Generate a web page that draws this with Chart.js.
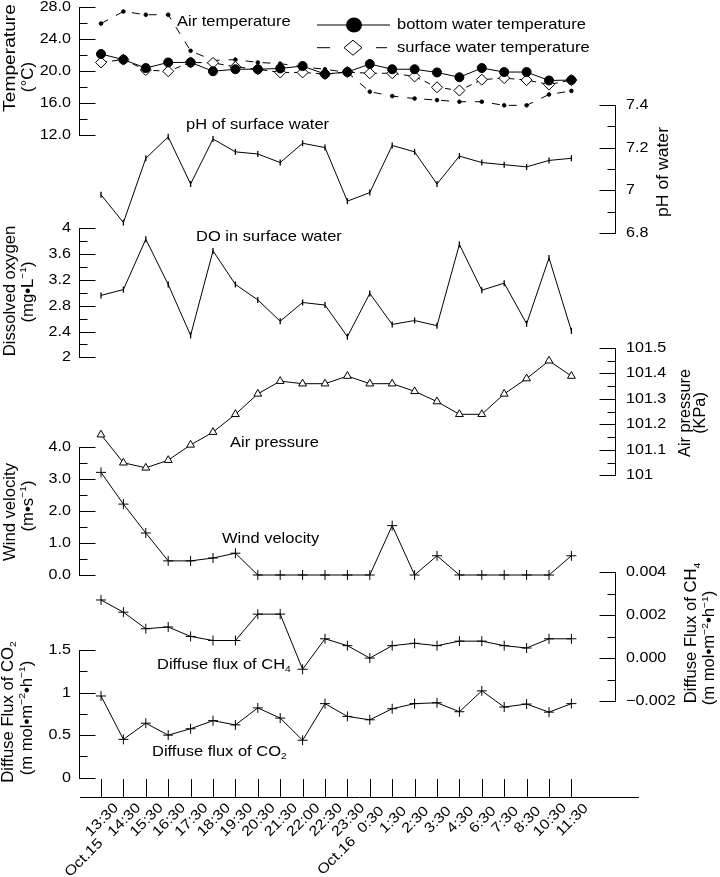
<!DOCTYPE html>
<html>
<head>
<meta charset="utf-8">
<title>Lake water parameters and diffuse fluxes, Oct.15-16</title>
<script src="https://cdn.jsdelivr.net/npm/chart.js@4.4.1/dist/chart.umd.min.js"></script>
<style>
html,body{margin:0;padding:0;background:#fff;}
canvas{display:block;}
</style>
</head>
<body>
<canvas id="c" width="720" height="877" style="width:720px;height:877px"></canvas>
<script>
// ================= DATA =================
const timeLabels = ["13:30","14:30","15:30","16:30","17:30","18:30","19:30","20:30","21:30","22:00","22:30","23:30",
                    "0:30","1:30","2:30","3:30","4:30","6:30","7:30","8:30","10:30","11:30"];
const dateLabels = ["Oct.15","","","","","","","","","","","","Oct.16","","","","","","","","",""];

const bottomWaterTemp  = [22.1,21.4,20.35,21.05,21.05,19.95,20.2,20.2,20.3,20.6,19.6,19.85,20.85,20.2,20.2,19.8,19.2,20.35,19.85,19.85,18.8,18.85];
const surfaceWaterTemp = [21.05,21.4,20.1,19.95,21.05,21.0,20.5,20.2,19.8,19.8,19.6,19.85,19.7,19.7,19.3,17.95,17.55,18.9,19.1,18.85,18.3,18.85];
const airTemp          = [25.9,27.4,27.0,27.0,22.5,21.3,21.4,21.05,20.9,20.5,20.2,19.8,17.4,16.85,16.55,16.35,16.15,16.15,15.7,15.7,17.05,17.5];
const phSurface        = [6.98,6.85,7.15,7.25,7.03,7.24,7.18,7.17,7.13,7.22,7.2,6.95,6.99,7.21,7.18,7.03,7.16,7.13,7.12,7.11,7.14,7.15];
const doSurface        = [2.96,3.05,3.83,3.13,2.34,3.65,3.13,2.89,2.56,2.85,2.81,2.32,2.99,2.51,2.57,2.49,3.75,3.04,3.15,2.52,3.54,2.41];
const airPressure      = [101.16,101.05,101.03,101.06,101.12,101.17,101.24,101.32,101.37,101.36,101.36,101.39,101.36,101.36,101.33,101.29,101.24,101.24,101.32,101.38,101.45,101.39];
const windVelocity     = [3.2,2.21,1.31,0.44,0.44,0.53,0.68,0,0,0,0,0,0,1.54,0,0.6,0,0,0,0,0,0.6];
const ch4Flux          = [0.00271,0.00214,0.00137,0.00145,0.00101,0.00082,0.00082,0.00205,0.00205,-0.00052,0.0009,0.00058,0.0,0.00058,0.00069,0.00058,0.00079,0.00079,0.00058,0.00047,0.0009,0.0009];
const co2Flux          = [0.96,0.45,0.64,0.50,0.575,0.67,0.62,0.82,0.70,0.44,0.87,0.72,0.68,0.81,0.87,0.88,0.775,1.02,0.83,0.865,0.77,0.87];

// tick values / labels
const tempTickValues = [12,16,20,24,28];            const tempTickLabels = ["12.0","16.0","20.0","24.0","28.0"];  const tempMinor = [14,18,22,26];
const phTickValues   = [6.8,7.0,7.2,7.4];           const phTickLabels   = ["6.8","7","7.2","7.4"];               const phMinor = [6.9,7.1,7.3];
const doTickValues   = [2,2.4,2.8,3.2,3.6,4];       const doTickLabels   = ["2","2.4","2.8","3.2","3.6","4"];     const doMinor = [2.2,2.6,3.0,3.4,3.8];
const presTickValues = [101,101.1,101.2,101.3,101.4,101.5]; const presTickLabels = ["101","101.1","101.2","101.3","101.4","101.5"]; const presMinor = [101.05,101.15,101.25,101.35,101.45];
const windTickValues = [0,1,2,3,4];                 const windTickLabels = ["0.0","1.0","2.0","3.0","4.0"];       const windMinor = [0.5,1.5,2.5,3.5];
const ch4TickValues  = [-0.002,0,0.002,0.004];      const ch4TickLabels  = ["\u22120.002","0.000","0.002","0.004"]; const ch4Minor = [-0.001,0.001,0.003];
const co2TickValues  = [0,0.5,1,1.5];               const co2TickLabels  = ["0","0.5","1","1.5"];                 const co2Minor = [0.25,0.75,1.25];

// ================= LAYOUT =================
const W = 720, H = 877;
const AREA = {left: 80, right: 638, top: 0, bottom: 797};
const X_FIRST = 101, X_STEP = 22.4;
const LEFT_AXIS_X = 79.5, RIGHT_AXIS_X = 615.5;
const MAJOR_LEN = 16, MINOR_LEN = 8;
const FONT = "'Liberation Sans', Arial, Helvetica, sans-serif";
const TICK_FONT = 14, TICK_HS = 1.15;

const panels = [
  {id:'yTemp', side:'left', pTop:6.7, pBot:135, values:tempTickValues, labels:tempTickLabels, minor:tempMinor,
   titles:[{parts:[["Temperature",0]], x:10.5, y:58, size:16, hs:1.2},
           {parts:[["(\u00B0C)",0]], x:28.5, y:77, size:16, hs:1.06}]},
  {id:'yPh', side:'right', pTop:104.7, pBot:233.3, values:phTickValues, labels:phTickLabels, minor:phMinor,
   titles:[{parts:[["pH of water",0]], x:663.5, y:172, size:16, hs:1.1}]},
  {id:'yDo', side:'left', pTop:228.3, pBot:357.3, values:doTickValues, labels:doTickLabels, minor:doMinor,
   titles:[{parts:[["Dissolved oxygen",0]], x:10.5, y:291, size:16, hs:1.04},
           {parts:[["(mg\u2022L",0],["\u22121",2],[")",0]], x:28.5, y:292, size:16, hs:1.04}]},
  {id:'yPres', side:'right', pTop:348, pBot:475.5, values:presTickValues, labels:presTickLabels, minor:presMinor,
   titles:[{parts:[["Air pressure",0]], x:686, y:413, size:16, hs:1.02},
           {parts:[["(KPa)",0]], x:701, y:413, size:16, hs:1.02}]},
  {id:'yWind', side:'left', pTop:446.7, pBot:575, values:windTickValues, labels:windTickLabels, minor:windMinor,
   titles:[{parts:[["Wind velocity",0]], x:10.5, y:512, size:16, hs:1.04},
           {parts:[["(m\u2022s",0],["\u22121",2],[")",0]], x:28.5, y:506, size:16, hs:1.04}]},
  {id:'yCh4', side:'right', pTop:572.3, pBot:701, values:ch4TickValues, labels:ch4TickLabels, minor:ch4Minor,
   titles:[{parts:[["Diffuse Flux of CH",0],["4",1]], x:692, y:633, size:16, hs:1.04},
           {parts:[["(m mol\u2022m",0],["\u22122",2],["\u2022h",0],["\u22121",2],[")",0]], x:710, y:648, size:16, hs:1.04}]},
  {id:'yCo2', side:'left', pTop:650, pBot:777.7, values:co2TickValues, labels:co2TickLabels, minor:co2Minor,
   titles:[{parts:[["Diffuse Flux of CO",0],["2",1]], x:8.5, y:712, size:16, hs:1.04},
           {parts:[["(m mol\u2022m",0],["\u22122",2],["\u2022h",0],["\u22121",2],[")",0]], x:27.5, y:718, size:16, hs:1.04}]}
];

const seriesNotes = [
  {parts:[["Air temperature",0]], x:177, y:21.7},
  {parts:[["pH of surface water",0]], x:186, y:125},
  {parts:[["DO in surface water",0]], x:196, y:236.7},
  {parts:[["Air pressure",0]], x:230, y:443},
  {parts:[["Wind velocity",0]], x:222, y:539},
  {parts:[["Diffuse flux of CH",0],["4",1]], x:157, y:665},
  {parts:[["Diffuse flux of CO",0],["2",1]], x:152, y:752}
];
const NOTE_FONT = 15, NOTE_HS = 1.1;

const X_TICK_TOP = 779;
const X_LABEL_Y = 820, X_LABEL_DX = 1;
const DATE_POS = {0: {dx:-17, y:858}, 12: {dx:-33, y:856}};

// ================= HELPERS =================
function drawRich(ctx, parts, x, y, o) {
  ctx.save();
  ctx.translate(x, y);
  if (o.angle) ctx.rotate(o.angle);
  ctx.scale(o.hs || 1, 1);
  ctx.fillStyle = '#000';
  ctx.textBaseline = 'middle';
  ctx.textAlign = 'left';
  const small = o.size * 0.62;
  let w = 0;
  const ws = parts.map(([t, m]) => {
    ctx.font = (m ? small : o.size) + 'px ' + FONT;
    const ww = ctx.measureText(t).width; w += ww; return ww;
  });
  let cx = o.align === 'center' ? -w / 2 : (o.align === 'right' ? -w : 0);
  parts.forEach(([t, m], i) => {
    ctx.font = (m ? small : o.size) + 'px ' + FONT;
    const dy = m === 1 ? o.size * 0.30 : (m === 2 ? -o.size * 0.32 : 0);
    ctx.fillText(t, cx, dy);
    cx += ws[i];
  });
  ctx.restore();
}
const pts = arr => arr.map((v, i) => ({x: i, y: v}));

// ================= SCALES =================
const yScales = {};
panels.forEach(p => {
  const vTop = Math.max(...p.values), vBot = Math.min(...p.values);
  const k = (p.pBot - p.pTop) / (vTop - vBot);
  yScales[p.id] = {type: 'linear', display: false,
    min: vBot - (AREA.bottom - p.pBot) / k,
    max: vTop + (p.pTop - AREA.top) / k};
});

// ================= PLUGIN: axes, labels, legend =================
const panelPlugin = {
  id: 'panelAxes',
  afterDraw(chart) {
    const ctx = chart.ctx;
    ctx.save();
    ctx.strokeStyle = '#000';
    ctx.lineWidth = 1;
    panels.forEach(p => {
      const s = chart.scales[p.id];
      const ax = p.side === 'left' ? LEFT_AXIS_X : RIGHT_AXIS_X;
      const dir = p.side === 'left' ? 1 : -1;
      const yA = Math.round(s.getPixelForValue(Math.max(...p.values))) + 0.5;
      const yB = Math.round(s.getPixelForValue(Math.min(...p.values))) + 0.5;
      ctx.beginPath(); ctx.moveTo(ax, yA - 0.5); ctx.lineTo(ax, yB + 0.5); ctx.stroke();
      p.values.forEach((v, i) => {
        const y = Math.round(s.getPixelForValue(v)) + 0.5;
        ctx.beginPath(); ctx.moveTo(ax, y); ctx.lineTo(ax + dir * MAJOR_LEN, y); ctx.stroke();
        if (p.side === 'left') drawRich(ctx, [[p.labels[i], 0]], ax - 8.5, y, {size: TICK_FONT, hs: TICK_HS, align: 'right'});
        else drawRich(ctx, [[p.labels[i], 0]], ax + 10.5, y, {size: TICK_FONT, hs: TICK_HS, align: 'left'});
      });
      p.minor.forEach(v => {
        const y = Math.round(s.getPixelForValue(v)) + 0.5;
        ctx.beginPath(); ctx.moveTo(ax, y); ctx.lineTo(ax + dir * MINOR_LEN, y); ctx.stroke();
      });
      p.titles.forEach(t => drawRich(ctx, t.parts, t.x, t.y, {size: t.size, hs: t.hs, align: 'center', angle: -Math.PI / 2}));
    });

    // x-axis ticks (pointing up) and rotated labels
    const xs = chart.scales.x;
    timeLabels.forEach((lab, i) => {
      const px = Math.round(xs.getPixelForValue(i)) + 0.5;
      ctx.beginPath(); ctx.moveTo(px, X_TICK_TOP); ctx.lineTo(px, AREA.bottom); ctx.stroke();
      drawRich(ctx, [[lab, 0]], xs.getPixelForValue(i) + X_LABEL_DX, X_LABEL_Y, {size: TICK_FONT, hs: TICK_HS, align: 'center', angle: -Math.PI / 4});
      if (dateLabels[i]) {
        const d = DATE_POS[i];
        drawRich(ctx, [[dateLabels[i], 0]], xs.getPixelForValue(i) + d.dx, d.y, {size: TICK_FONT, hs: TICK_HS, align: 'center', angle: -Math.PI / 4});
      }
    });

    // notes inside the plot
    seriesNotes.forEach(n => drawRich(ctx, n.parts, n.x, n.y, {size: NOTE_FONT, hs: NOTE_HS, align: 'left'}));

    // legend
    const lg1 = 25, lg2 = 47.7;
    ctx.beginPath(); ctx.moveTo(317, lg1); ctx.lineTo(390, lg1); ctx.stroke();
    ctx.beginPath(); ctx.ellipse(354, lg1, 8, 7.5, 0, 0, Math.PI * 2); ctx.fillStyle = '#000'; ctx.fill();
    drawRich(ctx, [["bottom water temperature", 0]], 397, lg1, {size: 15, hs: 1.1, align: 'left'});
    ctx.beginPath(); ctx.moveTo(317, lg2); ctx.lineTo(330, lg2); ctx.moveTo(376, lg2); ctx.lineTo(387, lg2); ctx.stroke();
    ctx.beginPath();
    ctx.moveTo(353, lg2 - 7.5); ctx.lineTo(362, lg2); ctx.lineTo(353, lg2 + 7.5); ctx.lineTo(344, lg2); ctx.closePath();
    ctx.fillStyle = '#fff'; ctx.fill(); ctx.stroke();
    drawRich(ctx, [["surface water temperature", 0]], 397, lg2, {size: 15, hs: 1.1, align: 'left'});
    ctx.restore();
  }
};

// ================= CHART =================
const base = {borderColor: '#000', backgroundColor: '#000', borderWidth: 1, pointBorderColor: '#000', pointBackgroundColor: '#000', pointBorderWidth: 1, tension: 0, fill: false};
new Chart(document.getElementById('c'), {
  type: 'line',
  data: {
    datasets: [
      Object.assign({}, base, {label: 'bottom water temperature', data: pts(bottomWaterTemp), yAxisID: 'yTemp', pointStyle: 'circle', pointRadius: 4.5}),
      Object.assign({}, base, {label: 'surface water temperature', data: pts(surfaceWaterTemp), yAxisID: 'yTemp', borderDash: [6, 5], pointStyle: 'rectRot', pointRadius: 5.5, pointBackgroundColor: '#fff'}),
      Object.assign({}, base, {label: 'Air temperature', data: pts(airTemp), yAxisID: 'yTemp', borderDash: [8, 9], pointStyle: 'circle', pointRadius: 1.8}),
      Object.assign({}, base, {label: 'pH of surface water', data: pts(phSurface), yAxisID: 'yPh', pointStyle: 'line', pointRotation: 90, pointRadius: 3, pointBorderWidth: 1.3}),
      Object.assign({}, base, {label: 'DO in surface water', data: pts(doSurface), yAxisID: 'yDo', pointStyle: 'line', pointRotation: 90, pointRadius: 3, pointBorderWidth: 1.3}),
      Object.assign({}, base, {label: 'Air pressure', data: pts(airPressure), yAxisID: 'yPres', pointStyle: 'triangle', pointRadius: 4.5, pointBackgroundColor: '#fff'}),
      Object.assign({}, base, {label: 'Wind velocity', data: pts(windVelocity), yAxisID: 'yWind', pointStyle: 'cross', pointRadius: 5}),
      Object.assign({}, base, {label: 'Diffuse flux of CH4', data: pts(ch4Flux), yAxisID: 'yCh4', pointStyle: 'cross', pointRadius: 5}),
      Object.assign({}, base, {label: 'Diffuse flux of CO2', data: pts(co2Flux), yAxisID: 'yCo2', pointStyle: 'cross', pointRadius: 5})
    ]
  },
  options: {
    responsive: false,
    animation: false,
    devicePixelRatio: 1,
    events: [],
    layout: {padding: {left: AREA.left, right: W - AREA.right, top: AREA.top, bottom: 0}, autoPadding: false},
    plugins: {legend: {display: false}, tooltip: {enabled: false}, colors: {enabled: false}},
    scales: Object.assign({
      x: {
        type: 'linear',
        min: -(X_FIRST - AREA.left) / X_STEP,
        max: (AREA.right - X_FIRST) / X_STEP,
        ticks: {display: false},
        grid: {display: false, drawTicks: false},
        border: {display: true, color: '#000', width: 1},
        afterFit(s) { s.height = H - AREA.bottom; s.paddingLeft = 0; s.paddingRight = 0; }
      }
    }, yScales)
  },
  plugins: [panelPlugin]
});
</script>
</body>
</html>
